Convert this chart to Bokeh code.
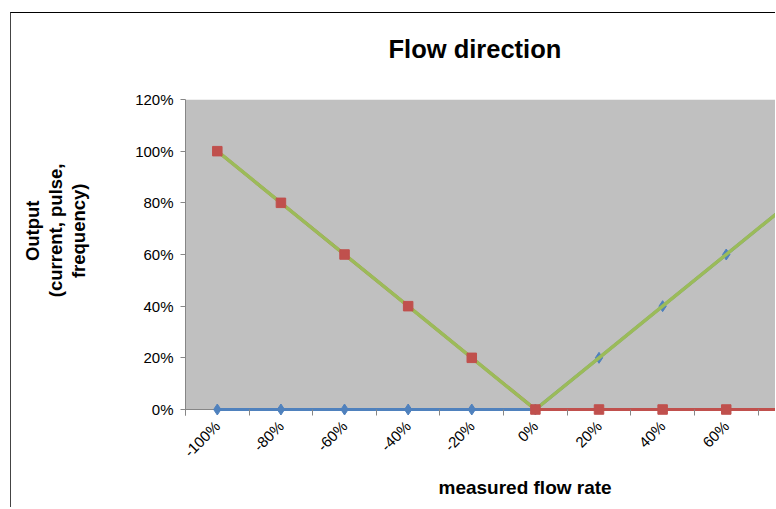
import math
from bokeh.plotting import figure
from bokeh.models import FixedTicker, Range1d, Title, BoxAnnotation, Span
from bokeh.embed import file_html
from bokeh.resources import INLINE

# ---- data ----
flow = [-100, -80, -60, -40, -20, 0, 20, 40, 60, 80, 100]
forward = [0, 0, 0, 0, 0, 0, 20, 40, 60, 80, 100]
reverse = [100, 80, 60, 40, 20, 0, 0, 0, 0, 0, 0]
total = [100, 80, 60, 40, 20, 0, 20, 40, 60, 80, 100]
y_ticks = [0, 20, 40, 60, 80, 100, 120]
x_labels = {v: f"{v}%" for v in flow}
y_labels = {v: f"{v}%" for v in y_ticks}
y_title_lines = ["Output", "(current, pulse,", "frequency)"]

BLUE = "#4F81BD"
RED = "#C0504D"
GREEN = "#9BBB59"
AXIS = "#868686"
FONT = "Liberation Sans"

half = (flow[1] - flow[0]) / 2
boundaries = [v - half for v in flow] + [flow[-1] + half]

p = figure(width=765, height=495, output_backend="svg", toolbar_location=None,
           x_range=Range1d(flow[0] - half, 75.8), y_range=Range1d(-2.32, y_ticks[-1]),
           min_border_left=174, min_border_right=0, min_border_top=86,
           min_border_bottom=93,
           styles={"border-top": "1px solid #000", "border-left": "1px solid #444",
                   "margin-left": "10px", "margin-top": "12px"})

p.background_fill_color = "white"
p.border_fill_color = "white"
p.outline_line_color = None

# plot-area fill (from 0 up to the top of the value axis)
p.add_layout(BoxAnnotation(bottom=0, top=y_ticks[-1], fill_color="#C0C0C0",
                           fill_alpha=1, line_color=None, level="underlay"))
p.add_layout(Span(location=0, dimension="width", line_color=AXIS, line_width=1,
                  level="underlay"))

# chart title (a thin spacer keeps it well above the plot area)
p.add_layout(Title(text=" ", text_font_size="1px", standoff=33), "above")
p.add_layout(Title(text="Flow direction", text_font=FONT, text_font_size="25.5px",
                   text_font_style="bold", text_color="black", align="left",
                   offset=203, standoff=2), "above")

# x axis
xa = p.xaxis[0]
xa.ticker = FixedTicker(ticks=flow, minor_ticks=boundaries)
xa.major_label_overrides = x_labels
xa.major_tick_line_color = None
xa.major_tick_out = 0
xa.major_tick_in = 0
xa.minor_tick_out = 0
xa.minor_tick_in = 6
xa.minor_tick_line_color = AXIS
xa.axis_line_color = None
xa.major_label_orientation = math.pi / 4
xa.major_label_standoff = 8
xa.major_label_text_font = FONT
xa.major_label_text_font_size = "15px"
xa.major_label_text_color = "black"

# y axis
ya = p.yaxis[0]
ya.ticker = FixedTicker(ticks=y_ticks)
ya.major_label_overrides = y_labels
ya.major_tick_out = 5
ya.major_tick_in = 0
ya.minor_tick_line_color = None
ya.major_tick_line_color = AXIS
ya.axis_line_color = AXIS
ya.major_label_standoff = 7
ya.major_label_text_font = FONT
ya.major_label_text_font_size = "15px"
ya.major_label_text_color = "black"

p.xgrid.visible = False
p.ygrid.ticker = FixedTicker(ticks=y_ticks[1:-1])
p.ygrid.grid_line_color = "#3C3C3C"
p.ygrid.grid_line_width = 1

# series
p.line(flow, forward, line_color=BLUE, line_width=3)
p.scatter(flow, forward, marker="diamond", size=11, fill_color=BLUE, line_color=BLUE)
p.line(flow, reverse, line_color=RED, line_width=3)
p.line(flow, total, line_color=GREEN, line_width=3.5)
p.scatter(flow, reverse, marker="square", size=9.5, fill_color=RED, line_color=RED)

# x axis title
p.add_layout(Title(text="measured flow rate", text_font=FONT, text_font_size="19px",
                   text_font_style="bold", text_color="black", align="left",
                   offset=253, standoff=10), "below")

# y axis title: three centred lines, innermost first
p.add_layout(Title(text=" ", text_font_size="1px", standoff=41), "left")
y_offsets = {"frequency)": 84, "(current, pulse,": 64, "Output": 101}
for line in reversed(y_title_lines):
    p.add_layout(Title(text=line, text_font=FONT, text_font_size="18.5px",
                       text_font_style="bold", text_color="black", align="right",
                       offset=y_offsets[line], standoff=0), "left")

open("out.html", "w").write(file_html(p, INLINE))
